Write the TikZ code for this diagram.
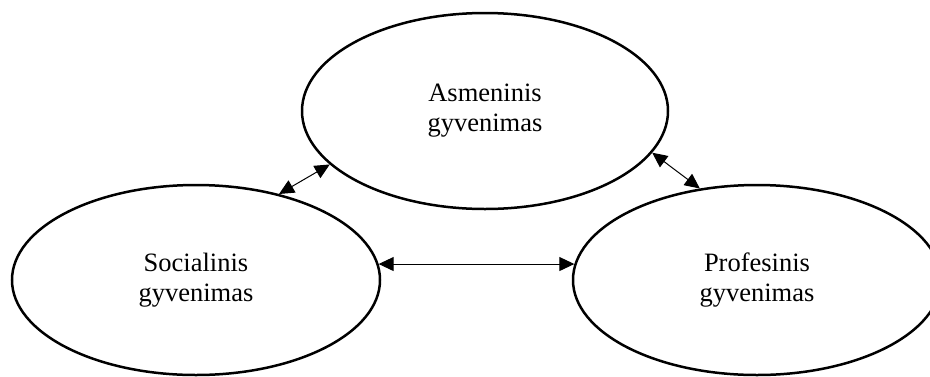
\documentclass[tikz,border=0pt]{standalone}
\usepackage{fontspec}
\setmainfont{Liberation Serif}
\usetikzlibrary{arrows.meta,shapes.geometric}

\begin{document}
\begin{tikzpicture}[
  x=1pt, y=-1pt,
  life/.style={draw, ellipse, line width=2.5pt, inner sep=0pt, align=center, minimum width=368pt, minimum height=190pt, font=\fontsize{26.5}{30}\selectfont},
  arrow/.style={{Triangle[length=15pt,width=14pt]}-{Triangle[length=15pt,width=14pt]}, line width=1pt}
]
\useasboundingbox (0,0) rectangle (930,376);
\node[life, minimum width=366pt, minimum height=196pt] (personal) at (485,111) {Asmeninis\\gyvenimas};
\node[life] (social) at (196,280) {Socialinis\\gyvenimas};
\node[life] (professional) at (757,280) {Profesinis\\gyvenimas};

\draw[arrow] (personal.199) -- (social.46);
\draw[arrow] (personal.346) -- (professional.122);
\draw[arrow] (social.5) -- (professional.175);
\end{tikzpicture}
\end{document}
